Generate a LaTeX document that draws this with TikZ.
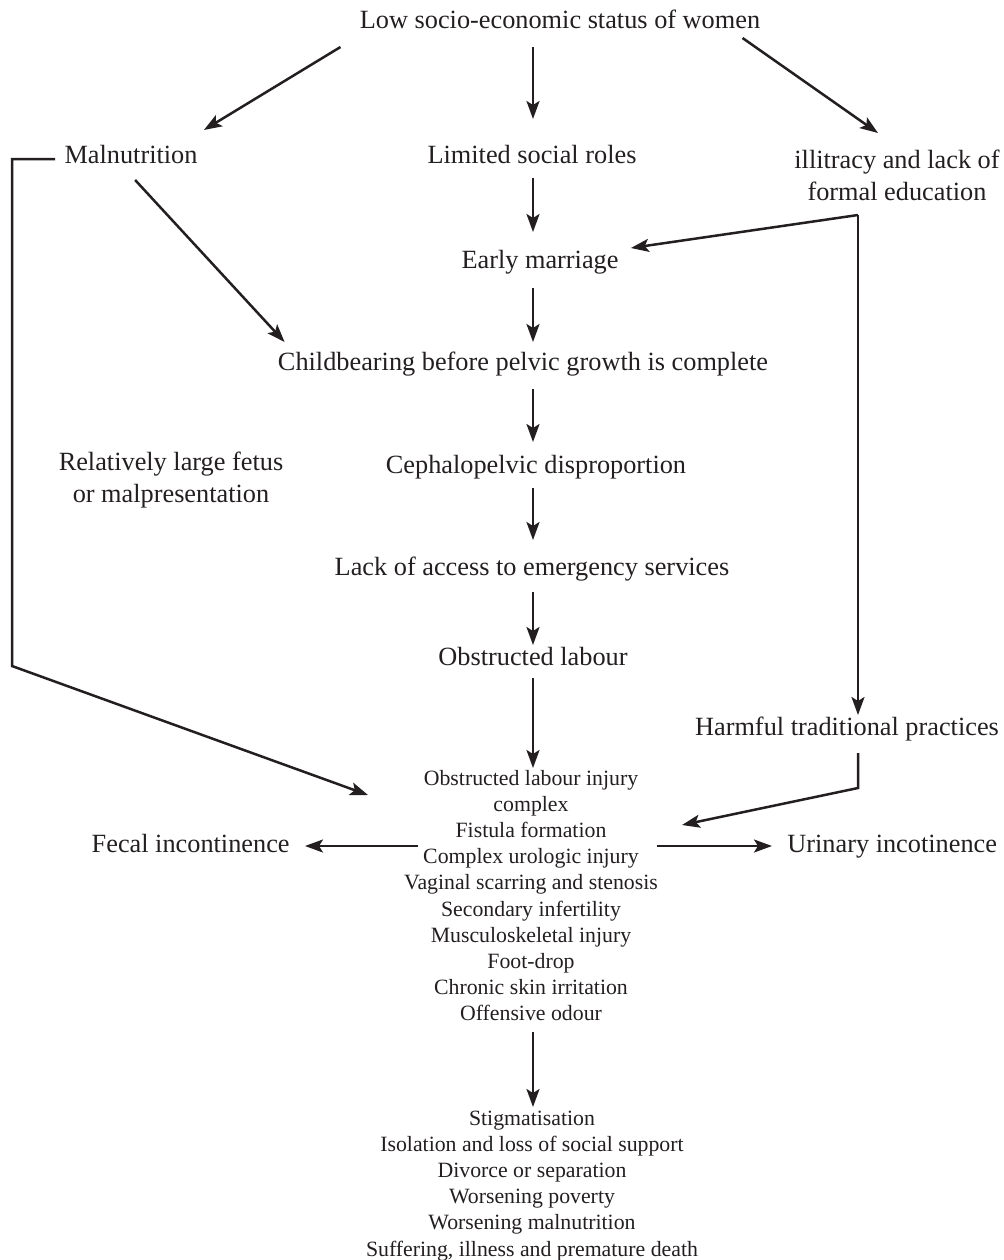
\documentclass[tikz,border=0pt]{standalone}
\usepackage{fontspec}
\setmainfont{Liberation Serif}
\usetikzlibrary{arrows.meta,calc}
\definecolor{ink}{HTML}{231F20}
\begin{document}
\begin{tikzpicture}[x=0.5pt,y=-0.5pt,
  big/.style={inner sep=0pt, anchor=base, font=\fontsize{13.15pt}{16pt}\selectfont, text=ink},
  small/.style={inner sep=0pt, anchor=base, font=\fontsize{10.9pt}{13.1pt}\selectfont, text=ink},
  arr/.style={draw=ink, line width=1.25pt, -{Stealth[length=9pt,width=6.5pt,inset=2pt]}}]
\useasboundingbox (0,0) rectangle (1004,1260);
% nodes
\node[big] (title) at (560,28) {Low socio-economic status of women};
\node[big] (mal) at (131,163) {Malnutrition};
\node[big] (lim) at (532,163) {Limited social roles};
\node[big] (ill) at (897,168) {\begin{tabular}[t]{@{}c@{}}illitracy and lack of\\formal education\end{tabular}};
\node[big] (early) at (540,268) {Early marriage};
\node[big] (child) at (523,370) {Childbearing before pelvic growth is complete};
\node[big] (fetus) at (171,470) {\begin{tabular}[t]{@{}c@{}}Relatively large fetus\\or malpresentation\end{tabular}};
\node[big] (ceph) at (536,473) {Cephalopelvic disproportion};
\node[big] (lack) at (532,575) {Lack of access to emergency services};
\node[big] (obst) at (533,665) {Obstructed labour};
\node[big] (harm) at (847,735) {Harmful traditional practices};
\node[small] (inj) at (531,785) {\begin{tabular}[t]{@{}c@{}}Obstructed labour injury\\complex\\Fistula formation\\Complex urologic injury\\Vaginal scarring and stenosis\\Secondary infertility\\Musculoskeletal injury\\Foot-drop\\Chronic skin irritation\\Offensive odour\end{tabular}};
\node[big, anchor=base east] (fecal) at (290,852) {Fecal incontinence};
\node[big, anchor=base west] (urin) at (787,852) {Urinary incotinence};
\node[small] (soc) at (532,1125) {\begin{tabular}[t]{@{}c@{}}Stigmatisation\\Isolation and loss of social support\\Divorce or separation\\Worsening poverty\\Worsening malnutrition\\Suffering, illness and premature death\end{tabular}};
\coordinate (col) at (533,0);
\coordinate (brk) at (12,0);
\coordinate (corner) at ($(ill.base)+(-39,47)$);
% connectors
\draw[arr] ($(title.base west)+(-19,19)$) -- ($(mal.base east)+(6,-33)$);
\draw[arr] ($(title.base -| col)+(0,19)$) -- ($(lim.base -| col)+(0,-44)$);
\draw[arr] ($(title.base east)+(-18,10)$) -- ($(ill.base)+(-19,-35)$);
\draw[arr] ($(lim.base -| col)+(0,15)$) -- ($(early.base -| col)+(0,-36)$);
\draw[arr] (corner) -- ($(early.base east)+(12,-20)$);
\draw[arr] (corner) -- ($(harm.base -| corner)+(0,-20)$);
\draw[arr] ($(mal.base west)+(71,17)$) -- ($(child.base west)+(7,-28)$);
\draw[arr] ($(early.base -| col)+(0,20)$) -- ($(child.base -| col)+(0,-28)$);
\draw[arr] ($(child.base -| col)+(0,19)$) -- ($(ceph.base -| col)+(0,-31)$);
\draw[arr] ($(ceph.base -| col)+(0,15)$) -- ($(lack.base -| col)+(0,-35)$);
\draw[arr] ($(lack.base -| col)+(0,17)$) -- ($(obst.base -| col)+(0,-20)$);
\draw[arr] ($(obst.base -| col)+(0,13)$) -- ($(inj.base -| col)+(0,-17)$);
\draw[arr] ($(harm.base -| corner)+(0,18)$) -- ($(harm.base -| corner)+(0,53)$) -- ($(inj.base)+(151,40)$);
\draw[arr] ($(mal.base west)+(-9,-4)$) -- ($(mal.base west -| brk)+(0,-4)$) -- ($(obst.base -| brk)+(0,1)$) -- ($(inj.base)+(-163,10)$);
\draw[arr] ($(inj.base)+(-113,61)$) -- ($(fecal.base east)+(15,-6)$);
\draw[arr] ($(inj.base)+(126,61)$) -- ($(urin.base west)+(-15,-6)$);
\draw[arr] ($(inj.base -| col)+(0,247)$) -- ($(soc.base -| col)+(0,-18)$);
\end{tikzpicture}
\end{document}
